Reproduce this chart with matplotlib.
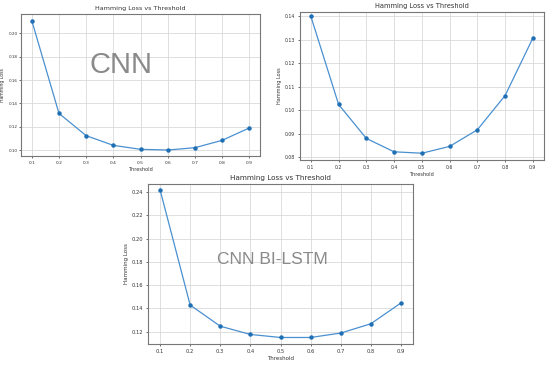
import numpy as np
import matplotlib
matplotlib.use("Agg")
import matplotlib.pyplot as plt

thresholds = [0.1, 0.2, 0.3, 0.4, 0.5, 0.6, 0.7, 0.8, 0.9]

# Hamming loss per threshold, three models
loss_cnn = [0.2109, 0.1314, 0.1123, 0.1040, 0.1006, 0.1000, 0.1020, 0.1083, 0.1189]
loss_right = [0.1400, 0.1024, 0.0879, 0.0822, 0.0816, 0.0845, 0.0916, 0.1062, 0.1307]
loss_bilstm = [0.2421, 0.1429, 0.1247, 0.1176, 0.1150, 0.1150, 0.1188, 0.1268, 0.1447]

yticks_cnn = [0.10, 0.12, 0.14, 0.16, 0.18, 0.20]
yticks_right = [0.08, 0.09, 0.10, 0.11, 0.12, 0.13, 0.14]
yticks_bilstm = [0.12, 0.14, 0.16, 0.18, 0.20, 0.22, 0.24]

plt.rcParams['font.family'] = ['DejaVu Sans']

fig = plt.figure(figsize=(5.5, 3.67), dpi=100)


def draw_panel(rect, values, yticks, ylim, tick_fs, label_fs, title_fs):
    ax = fig.add_axes(rect)
    ax.plot(thresholds, values, color='#4a90d0', lw=0.9, marker='o',
            markersize=2.2, markerfacecolor='#1f6fb4', markeredgecolor='#1f6fb4')
    ax.set_xticks(thresholds)
    ax.set_xticklabels([f"{t:.1f}" for t in thresholds])
    ax.set_yticks(yticks)
    ax.set_yticklabels([f"{t:.2f}" for t in yticks])
    ax.set_ylim(*ylim)
    ax.set_xlim(0.06, 0.94)
    ax.grid(True, color='#d9d9d9', lw=0.6)
    ax.tick_params(labelsize=tick_fs, length=1.5, width=0.5, pad=2,
                   colors='#333333')
    for s in ax.spines.values():
        s.set_color('#777777')
        s.set_linewidth(0.8)
    ax.set_xlabel('Threshold', fontsize=label_fs, labelpad=1.5, color='#333333')
    ax.set_ylabel('Hamming Loss', fontsize=label_fs, labelpad=2, color='#333333')
    ax.set_title('Hamming Loss vs Threshold', fontsize=title_fs, pad=3,
                 color='#333333')
    return ax


ax1 = draw_panel([0.038, 0.575, 0.435, 0.387], loss_cnn, yticks_cnn,
                 (0.0949, 0.2166), 3.2, 3.6, 4.6)
ax1.tick_params(axis='y', pad=1.0, labelsize=3.0)
ax1.yaxis.label.set_fontsize(3.3)
ax1.yaxis.set_label_coords(-0.066, 0.5)
ax1.text(0.42, 0.64, 'CNN', transform=ax1.transAxes, ha='center', va='center',
         fontsize=21, color='#8a8a8a', family='Liberation Sans')

ax2 = draw_panel([0.545, 0.564, 0.444, 0.403], loss_right, yticks_right,
                 (0.0787, 0.1418), 3.3, 3.6, 4.8)

ax3 = draw_panel([0.269, 0.063, 0.482, 0.436], loss_bilstm, yticks_bilstm,
                 (0.1095, 0.2470), 3.7, 4.0, 5.2)
ax3.text(0.47, 0.53, 'CNN BI-LSTM', transform=ax3.transAxes, ha='center',
         va='center', fontsize=12.5, color='#8a8a8a', family='Liberation Sans')

fig.savefig('out.png', dpi=100)
